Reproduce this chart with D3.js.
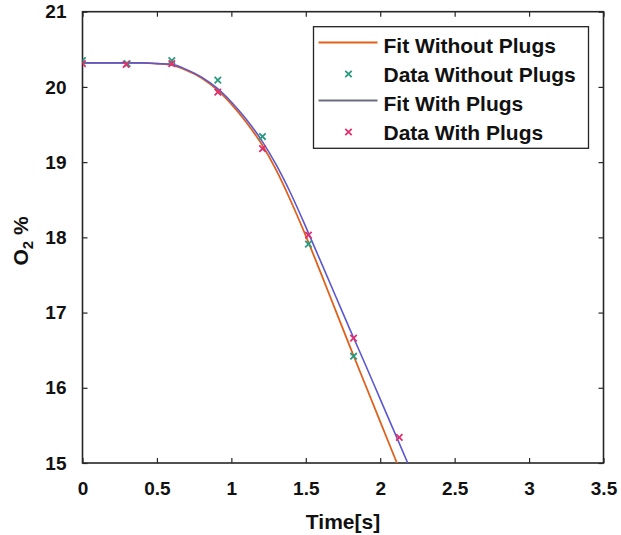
<!DOCTYPE html>
<html>
<head>
<meta charset="utf-8">
<script src="https://cdn.jsdelivr.net/npm/d3@7"></script>
<style>
  body { margin: 0; background: #fff; }
  text { font-family: "Liberation Sans", Arial, sans-serif; font-weight: bold; fill: #111; }
</style>
</head>
<body>
<div id="chart"></div>
<script>
// measured data (time in s, O2 in %)
const dataTimeNo = [0, 0.3, 0.6, 0.909, 1.209, 1.518, 1.821];
const dataO2No   = [20.35, 20.31, 20.35, 20.09, 19.34, 17.91, 16.42];
const dataTimeWith = [0, 0.293, 0.6, 0.909, 1.209, 1.518, 1.821, 2.128];
const dataO2With   = [20.31, 20.30, 20.31, 19.93, 19.18, 18.03, 16.66, 15.34];

// fitted curves
const fitTime   = [0, 0.2, 0.4, 0.5, 0.6, 0.7, 0.8, 0.9, 1.0, 1.1, 1.2, 1.3, 1.4, 1.5, 1.6, 1.7, 1.8, 1.9, 2.0, 2.1, 2.2];
const fitO2No   = [20.32, 20.32, 20.32, 20.31, 20.29, 20.22, 20.12, 19.97, 19.77, 19.53, 19.25, 18.9, 18.48, 18.02, 17.53, 17.03, 16.53, 16.04, 15.55, 15.06, 14.58];
const fitO2With = [20.32, 20.32, 20.32, 20.31, 20.30, 20.23, 20.13, 19.99, 19.80, 19.57, 19.30, 18.97, 18.58, 18.14, 17.68, 17.22, 16.76, 16.31, 15.85, 15.39, 14.93];

const xTicks = [0, 0.5, 1, 1.5, 2, 2.5, 3, 3.5];
const yTicks = [15, 16, 17, 18, 19, 20, 21];

const legendItems = [
  { label: 'Fit Without Plugs',  type: 'line',   color: '#e0601c' },
  { label: 'Data Without Plugs', type: 'marker', color: '#2a9a80' },
  { label: 'Fit With Plugs',     type: 'line',   color: '#6c6c80' },
  { label: 'Data With Plugs',    type: 'marker', color: '#e0306e' }
];

const W = 621, H = 535;
const margin = { top: 11.7, right: 17.5, bottom: 72, left: 82.5 };
const width = W - margin.left - margin.right;
const height = H - margin.top - margin.bottom;

const svg = d3.select('#chart').append('svg')
  .attr('width', W).attr('height', H);

const g = svg.append('g')
  .attr('transform', `translate(${margin.left},${margin.top})`);

const x = d3.scaleLinear().domain([0, 3.5]).range([0, width]);
const y = d3.scaleLinear().domain([15, 21]).range([height, 0]);

g.append('clipPath').attr('id', 'clip')
  .append('rect').attr('width', width).attr('height', height);

// axes, ticks point inward
const axisColor = '#262626';
function styleAxis(sel) {
  sel.select('.domain').remove();
  sel.selectAll('.tick line').attr('stroke', axisColor).attr('stroke-width', 1.2);
  sel.selectAll('.tick text').style('font-size', '19px').attr('fill', '#111');
}

g.append('g')
  .attr('transform', `translate(0,${height})`)
  .call(d3.axisBottom(x).tickValues(xTicks).tickFormat(d3.format('')).tickSizeInner(-5).tickPadding(19))
  .call(styleAxis);

g.append('g')
  .call(d3.axisTop(x).tickValues(xTicks).tickFormat('').tickSizeInner(-5))
  .call(styleAxis);

g.append('g')
  .call(d3.axisLeft(y).tickValues(yTicks).tickFormat(d3.format('')).tickSizeInner(-5).tickPadding(16))
  .call(styleAxis);

g.append('g')
  .attr('transform', `translate(${width},0)`)
  .call(d3.axisRight(y).tickValues(yTicks).tickFormat('').tickSizeInner(-5))
  .call(styleAxis);

g.append('rect')
  .attr('width', width).attr('height', height)
  .attr('fill', 'none').attr('stroke', axisColor).attr('stroke-width', 1.6);

// fit lines
const line = d3.line()
  .x(d => x(d[0])).y(d => y(d[1]))
  .curve(d3.curveMonotoneX);

const plot = g.append('g').attr('clip-path', 'url(#clip)');

plot.append('path')
  .datum(fitTime.map((t, i) => [t, fitO2No[i]]))
  .attr('d', line).attr('fill', 'none')
  .attr('stroke', '#e0601c').attr('stroke-width', 1.8);

plot.append('path')
  .datum(fitTime.map((t, i) => [t, fitO2With[i]]))
  .attr('d', line).attr('fill', 'none')
  .attr('stroke', '#5c58d0').attr('stroke-width', 1.6);

// x markers
function cross(sel, color) {
  const s = 3.2;
  sel.append('path')
    .attr('d', `M${-s},${-s}L${s},${s}M${-s},${s}L${s},${-s}`)
    .attr('stroke', color).attr('stroke-width', 1.8).attr('fill', 'none');
}

plot.selectAll('.mNo')
  .data(dataTimeNo.map((t, i) => [t, dataO2No[i]]))
  .join('g').attr('class', 'mNo')
  .attr('transform', d => `translate(${x(d[0])},${y(d[1])})`)
  .call(cross, '#2a9a80');

plot.selectAll('.mWith')
  .data(dataTimeWith.map((t, i) => [t, dataO2With[i]]))
  .join('g').attr('class', 'mWith')
  .attr('transform', d => `translate(${x(d[0])},${y(d[1])})`)
  .call(cross, '#e0306e');

// axis labels
svg.append('text')
  .attr('x', margin.left + width / 2).attr('y', 529)
  .attr('text-anchor', 'middle').style('font-size', '21px')
  .text('Time[s]');

const yl = svg.append('text')
  .attr('transform', `translate(28,241) rotate(-90)`)
  .attr('text-anchor', 'middle').style('font-size', '21px');
yl.append('tspan').text('O');
yl.append('tspan').attr('dy', 5).style('font-size', '15px').text('2');
yl.append('tspan').attr('dy', -5).text(' %');

// legend
const leg = svg.append('g').attr('transform', 'translate(313.5,26.7)');
leg.append('rect')
  .attr('width', 275).attr('height', 121.6)
  .attr('fill', '#fff').attr('stroke', '#222').attr('stroke-width', 1.3);

const rows = leg.selectAll('.row')
  .data(legendItems)
  .join('g').attr('class', 'row')
  .attr('transform', (d, i) => `translate(0,${18.3 + i * 29})`);

rows.filter(d => d.type === 'line').append('line')
  .attr('x1', 5).attr('x2', 64).attr('y1', -2.5).attr('y2', -2.5)
  .attr('stroke', d => d.color).attr('stroke-width', 1.8);

rows.filter(d => d.type === 'marker').append('g')
  .attr('transform', 'translate(35,0)')
  .each(function(d) { cross(d3.select(this), d.color); });

rows.append('text')
  .attr('x', 70).attr('y', 7.5)
  .style('font-size', '21px')
  .text(d => d.label);
</script>
</body>
</html>
